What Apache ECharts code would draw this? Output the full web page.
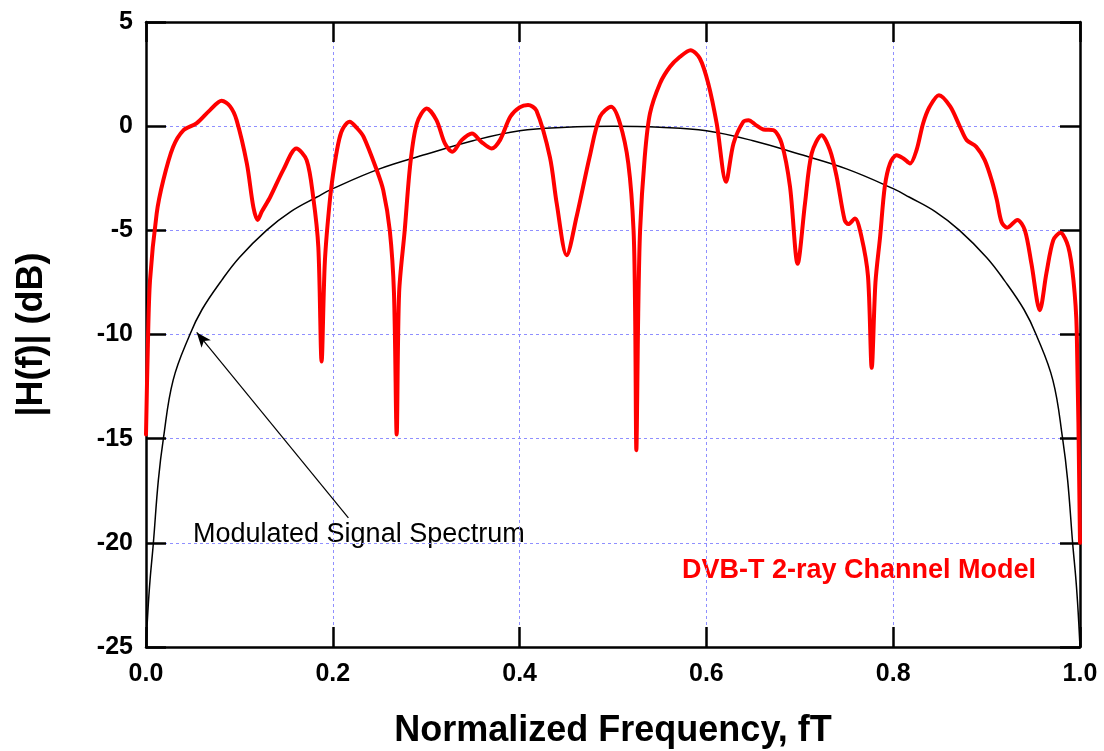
<!DOCTYPE html>
<html>
<head>
<meta charset="utf-8">
<script src="https://cdn.jsdelivr.net/npm/echarts@6/dist/echarts.min.js"></script>
<style>
html,body{margin:0;padding:0;background:#fff;}
#chart{width:1104px;height:751px;}
</style>
</head>
<body>
<div id="chart"></div>
<script>
// ---- data ----
const xTicks = [0.0, 0.2, 0.4, 0.6, 0.8, 1.0];
const yTicks = [-25, -20, -15, -10, -5, 0, 5];

// DVB-T 2-ray channel response (normalized frequency, dB)
const redF = [0.0, 0.002, 0.0043, 0.0114, 0.0185, 0.029, 0.040, 0.054, 0.0685, 0.081, 0.090, 0.097,
  0.108, 0.115, 0.1195, 0.124, 0.133, 0.147, 0.161, 0.172, 0.179, 0.1845, 0.188, 0.1915, 0.197,
  0.202, 0.207, 0.211, 0.218, 0.226, 0.233, 0.247, 0.254, 0.261, 0.2655, 0.2684, 0.271, 0.277,
  0.283, 0.290, 0.3005, 0.311, 0.320, 0.328, 0.338, 0.349, 0.359, 0.370, 0.379, 0.390, 0.400,
  0.409, 0.418, 0.4325, 0.4397, 0.4504, 0.461, 0.475, 0.486, 0.498, 0.5075, 0.5164, 0.522,
  0.5237, 0.525, 0.527, 0.529, 0.534, 0.5396, 0.5503, 0.561, 0.5717, 0.583, 0.593, 0.602, 0.611,
  0.621, 0.629, 0.6395, 0.645, 0.653, 0.661, 0.6716, 0.6806, 0.6895, 0.6977, 0.7056, 0.7127,
  0.7234, 0.7323, 0.7395, 0.748, 0.752, 0.759, 0.766, 0.773, 0.777, 0.781, 0.786, 0.791, 0.7966,
  0.8037, 0.811, 0.818, 0.825, 0.832, 0.839, 0.849, 0.861, 0.8715, 0.8787, 0.889, 0.898, 0.9055,
  0.911, 0.916, 0.922, 0.933, 0.941, 0.948, 0.957, 0.964, 0.9714, 0.979, 0.9875, 0.993, 0.9965, 1.0];
const redDB = [-14.8, -10.5, -7.4, -4.2, -2.6, -1.0, -0.2, 0.13, 0.77, 1.22, 0.95, 0.29,
  -1.8, -3.9, -4.5, -4.1, -3.4, -2.1, -1.07, -1.63, -3.4, -5.8, -11.3, -6.5, -3.5,
  -1.8, -0.6, -0.1, 0.21, -0.1, -0.51, -2.1, -3.07, -5.0, -8.0, -14.8, -8.0, -5.0,
  -1.8, 0.13, 0.85, 0.29, -0.83, -1.23, -0.67, -0.35, -0.75, -1.07, -0.67, 0.45, 0.9,
  1.02, 0.75, -1.5, -3.7, -6.2, -4.35, -1.47, 0.45, 0.93, 0.13, -1.79, -5.0,
  -9.0, -15.55, -9.0, -5.0, -1.47, 0.61, 2.05, 2.85, 3.33, 3.65, 3.25, 2.05, 0.13,
  -2.67, -0.83, 0.21, 0.29, 0.05, -0.16, -0.19, -0.83, -2.9, -6.6, -3.7, -1.31,
  -0.43, -1.15, -2.43, -4.5, -4.7, -4.43, -5.3, -7.2, -11.6, -7.5, -5.3, -2.9, -1.79,
  -1.39, -1.55, -1.79, -1.15, 0.13, 0.93, 1.49, 0.95, -0.03, -0.67, -0.99, -1.63, -2.6,
  -3.55, -4.6, -4.87, -4.5, -5.0, -6.6, -8.83, -7.07, -5.47, -5.12, -5.8, -7.4, -9.8, -20.0];

// Modulated signal spectrum (normalized frequency, dB)
const blackF = [0.0, 0.002, 0.0043, 0.0079, 0.0132, 0.0186, 0.029, 0.047, 0.060, 0.081, 0.100,
  0.129, 0.155, 0.183, 0.200, 0.250, 0.300, 0.350, 0.400, 0.450, 0.500, 0.550, 0.600, 0.650,
  0.700, 0.750, 0.800, 0.817, 0.845, 0.871, 0.900, 0.919, 0.940, 0.953, 0.971, 0.9814, 0.9868,
  0.9921, 0.9957, 0.998, 1.0];
const blackDB = [-25.0, -23.3, -21.8, -20.0, -17.0, -15.0, -12.2, -10.0, -8.8, -7.4, -6.3,
  -5.0, -4.1, -3.4, -3.0, -2.05, -1.35, -0.7, -0.22, -0.05, 0.0, -0.05, -0.22, -0.7,
  -1.35, -2.05, -3.0, -3.4, -4.1, -5.0, -6.3, -7.4, -8.8, -10.0, -12.2, -15.0, -17.0,
  -20.0, -21.8, -23.3, -25.0];

const redData = redF.map((f, i) => [f, redDB[i]]);
const blackData = blackF.map((f, i) => [f, blackDB[i]]);

// annotation arrow (data coordinates): from label to curve
const arrowFrom = [0.2167, -18.8];
const arrowTo = [0.0543, -9.9];

const FONT = '"Liberation Sans", Arial, sans-serif';
const gridColor = '#8f8fff';

const chart = echarts.init(document.getElementById('chart'), null, {renderer: 'canvas'});

const tickCommon = {show: true, inside: true, length: 20, lineStyle: {color: '#000', width: 2.5}};
const lineCommon = {show: true, onZero: false, lineStyle: {color: '#000', width: 2.5}};

chart.setOption({
  animation: false,
  backgroundColor: '#fff',
  grid: {left: 146, right: 24, top: 22, bottom: 104, containLabel: false, outerBoundsMode: 'none'},
  xAxis: [{
    type: 'value', min: xTicks[0], max: xTicks[xTicks.length - 1], interval: 0.2, position: 'bottom',
    axisLine: lineCommon, axisTick: tickCommon,
    axisLabel: {fontFamily: FONT, fontWeight: 'bold', fontSize: 25, color: '#000', margin: 15,
      formatter: v => v.toFixed(1)},
    splitLine: {show: true, lineStyle: {color: gridColor, width: 1, type: [3, 3]}},
    name: 'Normalized Frequency, fT', nameLocation: 'middle', nameGap: 66,
    nameTextStyle: {fontFamily: FONT, fontWeight: 'bold', fontSize: 36, color: '#000'}
  }, {
    type: 'value', min: xTicks[0], max: xTicks[xTicks.length - 1], interval: 0.2, position: 'top',
    axisLine: lineCommon, axisTick: tickCommon, axisLabel: {show: false}, splitLine: {show: false}
  }],
  yAxis: [{
    type: 'value', min: yTicks[0], max: yTicks[yTicks.length - 1], interval: 5, position: 'left',
    axisLine: lineCommon, axisTick: tickCommon,
    axisLabel: {fontFamily: FONT, fontWeight: 'bold', fontSize: 25, color: '#000', margin: 13},
    splitLine: {show: true, lineStyle: {color: gridColor, width: 1, type: [3, 3]}},
    name: '|H(f)| (dB)', nameLocation: 'middle', nameGap: 96, nameRotate: 90,
    nameTextStyle: {fontFamily: FONT, fontWeight: 'bold', fontSize: 36, color: '#000'}
  }, {
    type: 'value', min: yTicks[0], max: yTicks[yTicks.length - 1], interval: 5, position: 'right',
    axisLine: lineCommon, axisTick: tickCommon, axisLabel: {show: false}, splitLine: {show: false}
  }],
  series: [{
    name: 'Modulated Signal Spectrum', type: 'line', data: blackData, smooth: 0.4,
    showSymbol: false, symbol: 'none', clip: true,
    lineStyle: {color: '#000', width: 1.5},
    markLine: {
      silent: true, animation: false,
      symbol: ['none', 'arrow'], symbolSize: [9, 15],
      label: {show: false},
      lineStyle: {color: '#000', width: 1.2, type: 'solid'},
      data: [[{coord: arrowFrom}, {coord: arrowTo}]]
    }
  }, {
    name: 'DVB-T 2-ray Channel Model', type: 'line', data: redData, smooth: 0.3,
    showSymbol: false, symbol: 'none', clip: true,
    lineStyle: {color: '#ff0000', width: 4, cap: 'round', join: 'round'}
  }],
  graphic: [{
    type: 'text', left: 193, top: 521,
    style: {text: 'Modulated Signal Spectrum', fill: '#000', font: '27px ' + FONT}
  }, {
    type: 'text', left: 682, top: 557,
    style: {text: 'DVB-T 2-ray Channel Model', fill: '#ff0000', font: 'bold 27px ' + FONT}
  }]
});
</script>
</body>
</html>
